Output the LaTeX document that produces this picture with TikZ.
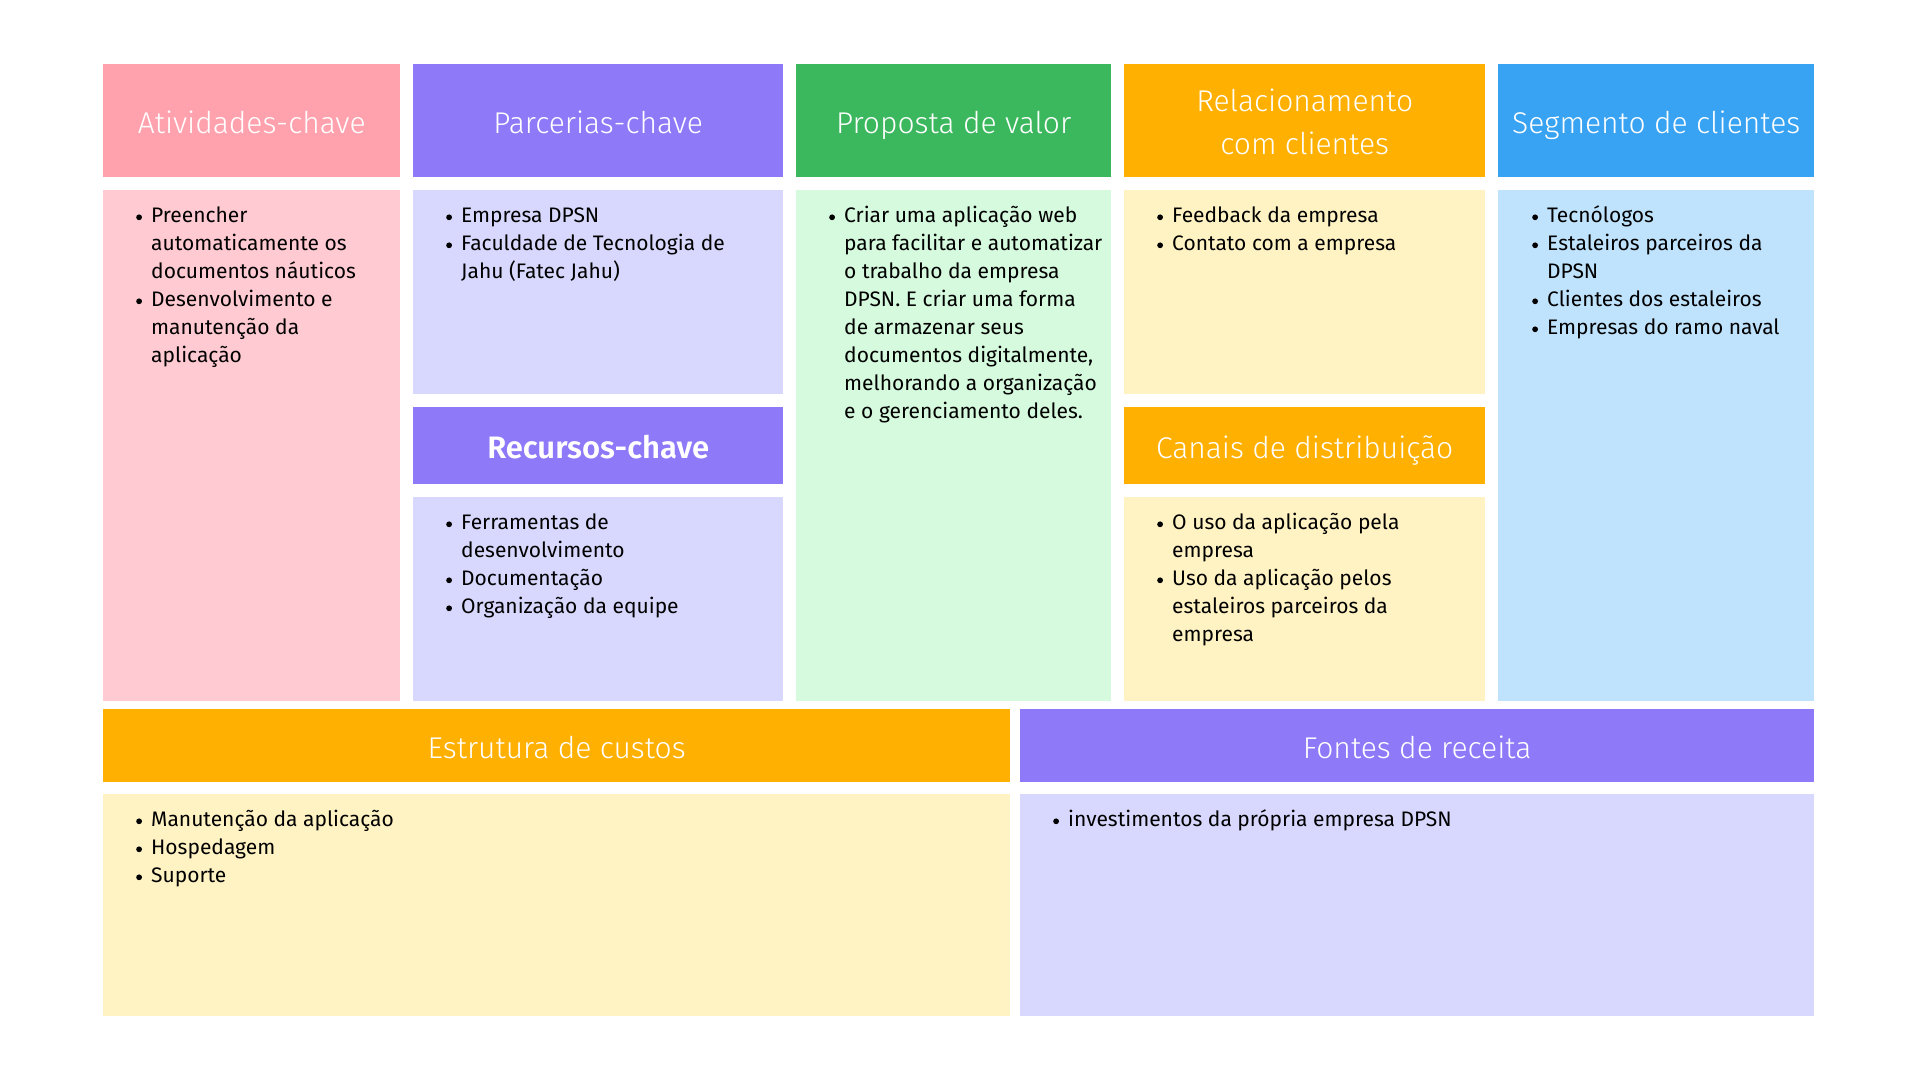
\documentclass[tikz,border=0pt]{standalone}
\usepackage{fontspec}
\setmainfont{Fira Sans}
\newfontfamily\hdrfamily{Fira Sans Light}
\newfontfamily\hdrbold{Fira Sans SemiBold}

\definecolor{pinkH}{HTML}{FFA2AE}
\definecolor{pinkB}{HTML}{FFCAD1}
\definecolor{purpH}{HTML}{8E79F8}
\definecolor{purpB}{HTML}{D8D8FE}
\definecolor{greenH}{HTML}{3BB85D}
\definecolor{greenB}{HTML}{D5FADD}
\definecolor{amberH}{HTML}{FFB000}
\definecolor{amberB}{HTML}{FFF3C3}
\definecolor{blueH}{HTML}{38A2F3}
\definecolor{blueB}{HTML}{BFE3FD}

% round bullet mark, centred on the x-height
\newcommand\dotmark{\tikz[baseline=0pt]\fill[black] (0pt,5.5pt) circle[radius=2.9pt];}
% bullet item and its continuation lines
\newcommand\itm[1]{\strut\makebox[15pt][l]{\dotmark}#1}
\newcommand\cnt[1]{\strut\hspace*{15pt}#1}

\tikzset{
  cell/.style={draw=none, inner sep=0pt, anchor=north west},
  title/.style={text=white, inner sep=0pt, anchor=base, yshift=-12.5pt,
    font=\hdrfamily\fontsize{30}{43}\selectfont},
  pane/.style={draw=none, inner sep=0pt, anchor=north west},
  list/.style={inner sep=0pt, anchor=north west, align=left, text=black,
    font=\fontsize{21}{28}\selectfont},
}

\begin{document}
\begin{tikzpicture}[x=1pt, y=-1pt]
  \fill[white] (0,0) rectangle (1920,1080);
  \useasboundingbox (0,0) rectangle (1920,1080);

  % ---- Atividades-chave
  \node[cell, fill=pinkH, minimum width=297, minimum height=113] (atvH) at (103,64) {};
  \node[title] (atvL) at (atvH.center) {Atividades-chave};
  \node[pane, fill=pinkB, minimum width=297, minimum height=511] (atvB) at (103,190) {};
  \node[list] (atvT) at (136,203) {\itm{Preencher}\\ \cnt{automaticamente os}\\ \cnt{documentos náuticos}\\ \itm{Desenvolvimento e}\\ \cnt{manutenção da}\\ \cnt{aplicação}};

  % ---- Parcerias-chave
  \node[cell, fill=purpH, minimum width=370, minimum height=113] (parH) at (413,64) {};
  \node[title] (parL) at (parH.center) {Parcerias-chave};
  \node[pane, fill=purpB, minimum width=370, minimum height=204] (parB) at (413,190) {};
  \node[list] (parT) at (446,203) {\itm{Empresa DPSN}\\ \itm{Faculdade de Tecnologia de}\\ \cnt{Jahu (Fatec Jahu)}};

  % ---- Recursos-chave
  \node[cell, fill=purpH, minimum width=370, minimum height=77] (recH) at (413,407) {};
  \node[title, font=\hdrbold\fontsize{31}{43}\selectfont] (recL) at (recH.center) {Recursos-chave};
  \node[pane, fill=purpB, minimum width=370, minimum height=204] (recB) at (413,497) {};
  \node[list] (recT) at (446,510) {\itm{Ferramentas de}\\ \cnt{desenvolvimento}\\ \itm{Documentação}\\ \itm{Organização da equipe}};

  % ---- Proposta de valor
  \node[cell, fill=greenH, minimum width=315, minimum height=113] (prpH) at (796,64) {};
  \node[title] (prpL) at (prpH.center) {Proposta de valor};
  \node[pane, fill=greenB, minimum width=315, minimum height=511] (prpB) at (796,190) {};
  \node[list] (prpT) at (829,203) {\itm{Criar uma aplicação web}\\ \cnt{para facilitar e automatizar}\\ \cnt{o trabalho da empresa}\\ \cnt{DPSN. E criar uma forma}\\ \cnt{de armazenar seus}\\ \cnt{documentos digitalmente,}\\ \cnt{melhorando a organização}\\ \cnt{e o gerenciamento deles.}};

  % ---- Relacionamento com clientes
  \node[cell, fill=amberH, minimum width=361, minimum height=113] (relH) at (1124,64) {};
  \node[title, anchor=center, align=center, yshift=11.5pt] (relL) at (relH.center) {Relacionamento\\com clientes};
  \node[pane, fill=amberB, minimum width=361, minimum height=204] (relB) at (1124,190) {};
  \node[list] (relT) at (1157,203) {\itm{Feedback da empresa}\\ \itm{Contato com a empresa}};

  % ---- Canais de distribuição
  \node[cell, fill=amberH, minimum width=361, minimum height=77] (canH) at (1124,407) {};
  \node[title] (canL) at (canH.center) {Canais de distribuição};
  \node[pane, fill=amberB, minimum width=361, minimum height=204] (canB) at (1124,497) {};
  \node[list] (canT) at (1157,510) {\itm{O uso da aplicação pela}\\ \cnt{empresa}\\ \itm{Uso da aplicação pelos}\\ \cnt{estaleiros parceiros da}\\ \cnt{empresa}};

  % ---- Segmento de clientes
  \node[cell, fill=blueH, minimum width=316, minimum height=113] (segH) at (1498,64) {};
  \node[title] (segL) at (segH.center) {Segmento de clientes};
  \node[pane, fill=blueB, minimum width=316, minimum height=511] (segB) at (1498,190) {};
  \node[list] (segT) at (1532,203) {\itm{Tecnólogos}\\ \itm{Estaleiros parceiros da}\\ \cnt{DPSN}\\ \itm{Clientes dos estaleiros}\\ \itm{Empresas do ramo naval}};

  % ---- Estrutura de custos
  \node[cell, fill=amberH, minimum width=907, minimum height=73] (cusH) at (103,709) {};
  \node[title] (cusL) at (cusH.center) {Estrutura de custos};
  \node[pane, fill=amberB, minimum width=907, minimum height=222] (cusB) at (103,794) {};
  \node[list] (cusT) at (136,807) {\itm{Manutenção da aplicação}\\ \itm{Hospedagem}\\ \itm{Suporte}};

  % ---- Fontes de receita
  \node[cell, fill=purpH, minimum width=794, minimum height=73] (fonH) at (1020,709) {};
  \node[title] (fonL) at (fonH.center) {Fontes de receita};
  \node[pane, fill=purpB, minimum width=794, minimum height=222] (fonB) at (1020,794) {};
  \node[list] (fonT) at (1053,807) {\itm{investimentos da própria empresa DPSN}};
\end{tikzpicture}
\end{document}
